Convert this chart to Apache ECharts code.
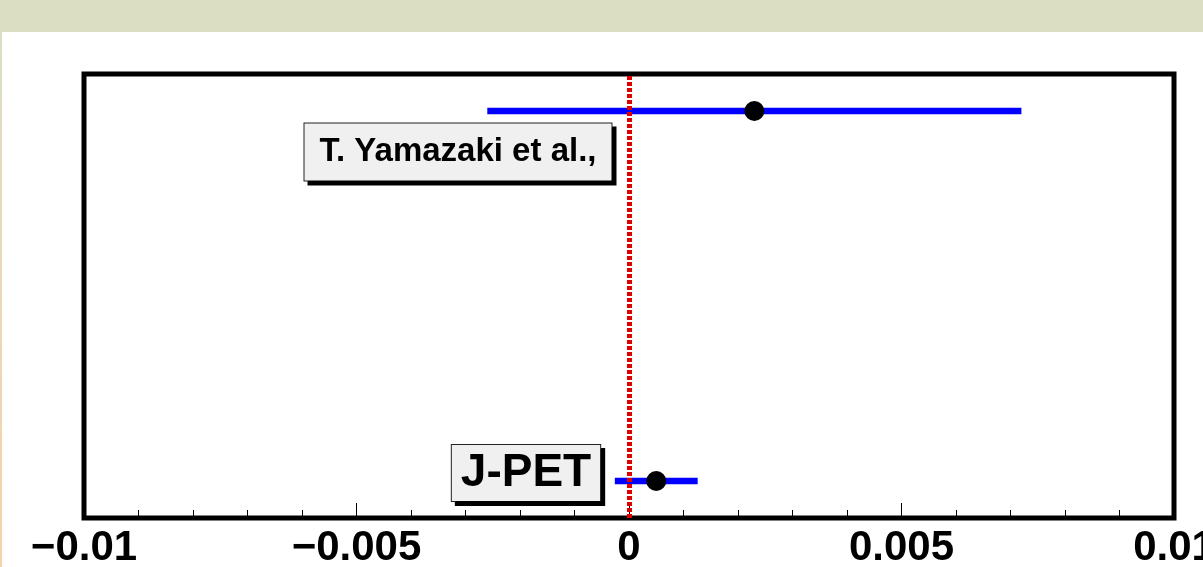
<!DOCTYPE html>
<html>
<head>
<meta charset="utf-8">
<script src="https://cdn.jsdelivr.net/npm/echarts@6/dist/echarts.min.js"></script>
<style>
  html, body { margin: 0; padding: 0; width: 1203px; height: 567px; background: #fff; overflow: hidden; }
  #band { position: absolute; left: 0; top: 0; width: 1203px; height: 32px; background: #dcdec3; }
  #strip { position: absolute; left: 0; top: 32px; width: 2px; height: 535px; background: linear-gradient(#dcdec3, #f6d2aa); }
  #chart { position: absolute; left: 0; top: 0; width: 1203px; height: 567px; }
</style>
</head>
<body>
<div id="band"></div>
<div id="strip"></div>
<div id="chart"></div>
<script>
// measurements (value +- error), one row each
const labels = ['T. Yamazaki et al.,', 'J-PET'];
const values = [0.0023, 0.0005];
const errors = [0.0049, 0.00076];
const rows = [1, 0];

const xTicks = { min: -0.01, max: 0.01, interval: 0.005 };

const barData = values.map((v, i) => [v, rows[i], errors[i]]);
const pointData = values.map((v, i) => [v, rows[i]]);

function fmt(v) {
  if (Math.abs(v) < 1e-12) return '0';
  const s = String(+Math.abs(v).toFixed(4));
  return v < 0 ? '\u2212' + s : s;
}

const chart = echarts.init(document.getElementById('chart'));

chart.setOption({
  animation: false,
  backgroundColor: 'transparent',
  grid: {
    left: 84, right: 29, top: 74, bottom: 49,
    containLabel: false, outerBoundsMode: 'none',
    show: true, borderColor: '#000', borderWidth: 5, backgroundColor: '#fff'
  },
  xAxis: {
    type: 'value',
    min: xTicks.min, max: xTicks.max, interval: xTicks.interval,
    axisLine: { show: false, onZero: false },
    splitLine: { show: false },
    axisTick: { show: true, inside: true, length: 15, lineStyle: { color: '#000', width: 1 } },
    minorTick: { show: true, splitNumber: 5, length: 8, lineStyle: { color: '#000', width: 1 } },
    axisLabel: {
      show: true, margin: 9, color: '#000',
      fontFamily: 'Liberation Sans', fontWeight: 'bold', fontSize: 42,
      showMinLabel: true, showMaxLabel: true, hideOverlap: false,
      formatter: fmt
    }
  },
  yAxis: { type: 'value', min: -0.1, max: 1.1, show: false },
  series: [
    {
      type: 'custom',
      data: barData,
      z: 2,
      renderItem: function (params, api) {
        const x = api.value(0), y = api.value(1), e = api.value(2);
        const p1 = api.coord([x - e, y]);
        const p2 = api.coord([x + e, y]);
        return {
          type: 'line',
          shape: { x1: p1[0], y1: p1[1], x2: p2[0], y2: p2[1] },
          style: { stroke: '#0000ff', lineWidth: 6.5 }
        };
      },
      markLine: {
        silent: true,
        symbol: ['none', 'none'],
        label: { show: false },
        z: 5,
        lineStyle: { color: '#e00000', width: 5, type: [4, 2] },
        data: [{ xAxis: 0 }]
      }
    },
    {
      type: 'scatter',
      data: pointData,
      z: 6,
      symbol: 'circle',
      symbolSize: 20,
      itemStyle: { color: '#000', opacity: 1 }
    }
  ],
  graphic: [
    {
      type: 'text', z: 10, x: 458, y: 152,
      style: {
        text: labels[0], align: 'center', verticalAlign: 'middle',
        font: 'bold 33px "Liberation Sans"', fill: '#000',
        backgroundColor: '#f0f0f0', borderColor: '#222', borderWidth: 1,
        padding: [12, 15, 12, 15],
        shadowColor: '#000', shadowOffsetX: 4, shadowOffsetY: 4, shadowBlur: 0
      }
    },
    {
      type: 'text', z: 10, x: 526, y: 473,
      style: {
        text: labels[1], align: 'center', verticalAlign: 'middle',
        font: 'bold 46px "Liberation Sans"', fill: '#000',
        backgroundColor: '#f0f0f0', borderColor: '#222', borderWidth: 1,
        padding: [5, 9, 5, 9],
        shadowColor: '#000', shadowOffsetX: 4, shadowOffsetY: 4, shadowBlur: 0
      }
    }
  ]
});
</script>
</body>
</html>
